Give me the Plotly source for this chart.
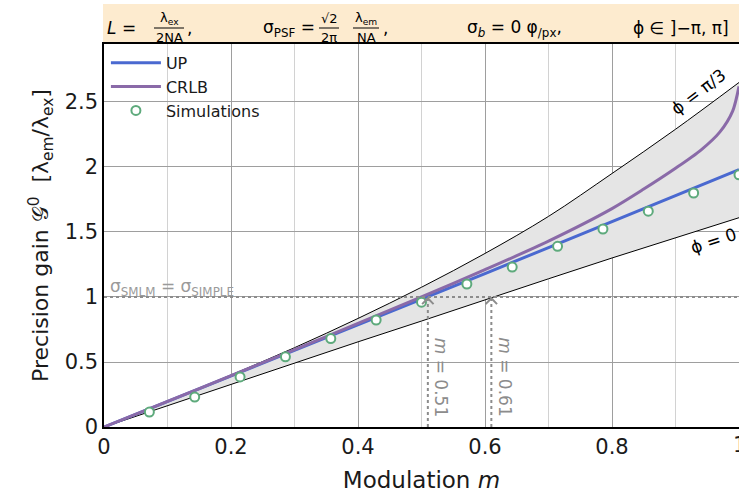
import plotly.graph_objects as go

# ---- data ---------------------------------------------------------------
# bounds of the precision gain over the phase range (shaded wedge)
m_bound = [0.0, 0.1, 0.2, 0.3, 0.4, 0.5, 0.6, 0.7, 0.8, 0.9, 1.0]
g_phi0 = [0.0, 0.165, 0.33, 0.495, 0.655, 0.815, 0.98, 1.14, 1.30, 1.455, 1.61]
g_phi_pi3 = [0.0, 0.197, 0.40, 0.61, 0.835, 1.075, 1.335, 1.62, 1.95, 2.29, 2.65]

# UP curve
m_up = [0.0, 0.1, 0.2, 0.3, 0.4, 0.5, 0.6, 0.7, 0.8, 0.9, 1.0]
g_up = [0.0, 0.196, 0.393, 0.59, 0.786, 0.982, 1.18, 1.38, 1.58, 1.78, 1.98]

# CRLB curve
m_crlb = [0.0, 0.1, 0.2, 0.3, 0.4, 0.5, 0.6, 0.7, 0.8, 0.85, 0.9, 0.94, 0.97, 0.99, 1.0]
g_crlb = [0.0, 0.197, 0.395, 0.595, 0.797, 1.0, 1.21, 1.43, 1.68, 1.83, 1.99, 2.13, 2.27, 2.43, 2.62]

# simulated points
m_sim = [1/14, 2/14, 3/14, 4/14, 5/14, 6/14, 7/14, 8/14, 9/14, 10/14, 11/14, 12/14, 13/14, 14/14]
g_sim = [0.115, 0.23, 0.385, 0.54, 0.68, 0.823, 0.96, 1.10, 1.23, 1.39, 1.523, 1.66, 1.80, 1.94]

# modulation where each curve reaches the SMLM precision
m_equal = [0.51, 0.61]

x_ticks = [0, 0.2, 0.4, 0.6, 0.8]
x_tick_text = ["0", "0.2", "0.4", "0.6", "0.8"]
x_last_tick = 1.0
y_ticks = [0, 0.5, 1.0, 1.5, 2.0, 2.5]
y_tick_text = ["0", "0.5", "1", "1.5", "2", "2.5"]

# ---- styling ------------------------------------------------------------
FONT = "DejaVu Sans"
W, H = 739, 496
ML, MR, MT, MB = 104, 0, 44, 69
PW, PH = W - ML - MR, H - MT - MB
BLUE = "#4a69d0"
PURPLE = "#8a6aa8"
GREEN = "#5eaa7c"
GRAY = "#8c8c8c"


def px(xp):
    return (xp - ML) / PW


def py(yp):
    return (H - MB - yp) / PH


fig = go.Figure()

fig.add_trace(go.Scatter(x=m_bound, y=g_phi0, mode="lines",
                         line=dict(color="black", width=1), showlegend=False,
                         hoverinfo="skip"))
fig.add_trace(go.Scatter(x=m_bound, y=g_phi_pi3, mode="lines",
                         line=dict(color="black", width=1, shape="spline"),
                         fill="tonexty", fillcolor="#e5e5e5", showlegend=False,
                         hoverinfo="skip"))
fig.add_trace(go.Scatter(x=m_up, y=g_up, mode="lines", name="UP",
                         legendgroup="up", legendrank=1,
                         line=dict(color=BLUE, width=3)))
fig.add_trace(go.Scatter(x=m_crlb, y=g_crlb, mode="lines", name="CRLB",
                         legendgroup="crlb", legendrank=2,
                         line=dict(color=PURPLE, width=3, shape="spline",
                                   smoothing=0.8)))
fig.add_trace(go.Scatter(x=m_sim, y=g_sim, mode="markers", name="Simulations",
                         legendgroup="sim", legendrank=3,
                         marker=dict(symbol="circle", size=9, color="white",
                                     line=dict(color=GREEN, width=2)),
                         cliponaxis=False))

# reference level G = 1
fig.add_shape(type="line", xref="x", yref="y", x0=0, x1=1, y0=1, y1=1,
              line=dict(color=GRAY, width=2, dash="dot"), layer="above")
fig.add_annotation(x=0.006, y=1.0, xref="x", yref="y", xanchor="left",
                   yanchor="bottom", showarrow=False, yshift=-4,
                   text="σ<sub>SMLM</sub> = σ<sub>SIMPLE</sub>",
                   font=dict(family=FONT, size=17, color="#9a9a9a"))

# crossing markers with arrows
for mv in m_equal:
    fig.add_shape(type="line", xref="x", yref="y", x0=mv, x1=mv, y0=0, y1=0.99,
                  line=dict(color=GRAY, width=2, dash="dot"), layer="above")
    fig.add_trace(go.Scatter(x=[mv - 0.009, mv, mv + 0.009],
                             y=[0.945, 0.99, 0.945], mode="lines",
                             line=dict(color=GRAY, width=2), showlegend=False,
                             hoverinfo="skip"))
    fig.add_annotation(x=mv + 0.021, y=0.385, xref="x", yref="y",
                       xanchor="center", yanchor="middle",
                       showarrow=False, textangle=90,
                       text=f"<i>m</i> = {mv:.2f}",
                       font=dict(family=FONT, size=17, color=GRAY))

# wedge labels
fig.add_annotation(x=px(698), y=py(92), xref="paper", yref="paper",
                   xanchor="center", yanchor="middle",
                   showarrow=False, textangle=-37, text="ϕ = π/3",
                   font=dict(family=FONT, size=17, color="black"))
fig.add_annotation(x=px(713), y=py(241), xref="paper", yref="paper",
                   xanchor="center", yanchor="middle",
                   showarrow=False, textangle=-18, text="ϕ = 0",
                   font=dict(family=FONT, size=17, color="black"))

# last x tick label sits on the right border
fig.add_annotation(x=x_last_tick, y=0, xref="x", yref="y", yanchor="top",
                   xanchor="center", showarrow=False, yshift=-4,
                   text="1", font=dict(family=FONT, size=21, color="#1a1a1a"))

# header band with parameters
fig.add_shape(type="rect", xref="paper", yref="paper", x0=px(103), x1=1.0,
              y0=1.0, y1=py(4), fillcolor="#fdebcf", line=dict(width=0),
              layer="below")


def head(xp, text, size=17, yp=28, anchor="left"):
    fig.add_annotation(x=px(xp), y=py(yp), xref="paper", yref="paper",
                       xanchor=anchor, yanchor="middle", showarrow=False,
                       text=text, font=dict(family=FONT, size=size, color="black"))


def frac(xc, num, den, w):
    head(xc, num, size=13, yp=18, anchor="center")
    head(xc, den, size=13, yp=38, anchor="center")
    fig.add_shape(type="line", xref="paper", yref="paper",
                  x0=px(xc - w / 2), x1=px(xc + w / 2), y0=py(28), y1=py(28),
                  line=dict(color="black", width=1))


head(105, "<i>L</i> =")
frac(169, "λ<sub>ex</sub>", "2NA", 30)
head(185, ",")
head(261, "σ<sub>PSF</sub> =")
frac(329, "√2", "2π", 20)
frac(366, "λ<sub>em</sub>", "NA", 26)
head(381, ",")
head(465, "σ<sub><i>b</i></sub> = 0 φ<sub>/px</sub>,")
head(631, "ϕ ∈ ]−π, π]")

fig.update_layout(
    width=W, height=H,
    margin=dict(l=ML, r=MR, t=MT, b=MB),
    paper_bgcolor="white", plot_bgcolor="white",
    font=dict(family=FONT, color="#1a1a1a"),
    showlegend=True,
    legend=dict(x=0.003, y=0.995, xanchor="left", yanchor="top",
                traceorder="normal",
                bgcolor="rgba(0,0,0,0)", font=dict(family=FONT, size=16),
                tracegroupgap=7, itemwidth=50),
    xaxis=dict(range=[0, 1.0], tickvals=x_ticks, ticktext=x_tick_text,
               showgrid=True, gridcolor="#9e9e9e", gridwidth=1,
               minor=dict(dtick=0.1, showgrid=True, gridcolor="#d2d2d2",
                          gridwidth=1),
               showline=True, linecolor="black", linewidth=1.5, mirror=True,
               zeroline=False, ticks="", tickfont=dict(size=21),
               title=dict(text="Modulation <i>m</i>", font=dict(size=23),
                          standoff=14)),
    yaxis=dict(range=[0, 2.946], tickvals=y_ticks, ticktext=y_tick_text,
               showgrid=True, gridcolor="#9e9e9e", gridwidth=1,
               showline=True, linecolor="black", linewidth=1.5,
               zeroline=False, ticks="", tickfont=dict(size=21),
               title=dict(text="Precision gain 𝒢<sup>0</sup>  [λ<sub>em</sub>/λ<sub>ex</sub>]",
                          font=dict(size=22), standoff=10)),
)

fig.write_html("out.html")
